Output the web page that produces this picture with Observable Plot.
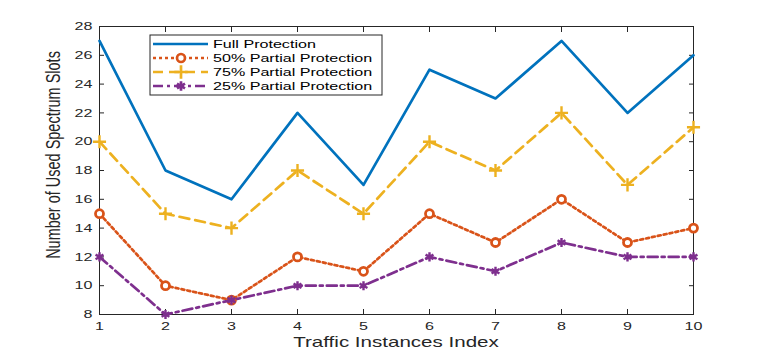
<!DOCTYPE html>
<html><head><meta charset="utf-8">
<script src="https://cdn.jsdelivr.net/npm/d3@7"></script>
<script src="https://cdn.jsdelivr.net/npm/@observablehq/plot@0.6"></script>
<style>
body{margin:0;background:#fff}
#c{position:relative;width:763px;height:354px;font-family:"Liberation Sans",Arial,sans-serif}
.wide{transform-box:fill-box;transform-origin:center;}
</style>
</head><body><div id="c"></div>
<script>
const instances = [1,2,3,4,5,6,7,8,9,10];
const fullProtection = [27,18,16,22,17,25,23,27,22,26];
const partial50 = [15,10,9,12,11,15,13,16,13,14];
const partial75 = [20,15,14,18,15,20,18,22,17,21];
const partial25 = [12,8,9,10,10,12,11,13,12,12];
const xTicks = [1,2,3,4,5,6,7,8,9,10];
const yTicks = [8,10,12,14,16,18,20,22,24,26,28];
const seriesNames = ["Full Protection","50% Partial Protection","75% Partial Protection","25% Partial Protection"];
const seriesColors = ["#0072BD","#D95319","#EDB120","#7E2F8E"];
const seriesDash = [null,"3,3","10,6","10,4,3,4"];
const seriesSymbol = [null,"circle","plus","asterisk"];
const seriesValues = [fullProtection, partial50, partial75, partial25];

const series = seriesNames.map((name,k)=>({
  name, color: seriesColors[k], dash: seriesDash[k], symbol: seriesSymbol[k],
  rows: instances.map((x,i)=>({x, y: seriesValues[k][i]}))
}));

const marks = [];
for (const s of series) {
  marks.push(Plot.line(s.rows, {x:"x", y:"y", stroke:s.color, strokeWidth:2.7, strokeDasharray:s.dash}));
  if (s.symbol) marks.push(Plot.dot(s.rows, {x:"x", y:"y", stroke:s.color, symbol:s.symbol,
    r: s.symbol==="circle"?4:4.3, strokeWidth: s.symbol==="circle"?2.8:2.4, fill: s.symbol==="circle"?"#fff":"none"}));
}

const chart = Plot.plot({
  width:763, height:354,
  marginLeft:99, marginRight:70, marginTop:26, marginBottom:40,
  style:{fontFamily:"Liberation Sans, Arial, sans-serif", fontSize:"11px", color:"#262626", background:"#fff"},
  x:{domain:[1,10]},
  y:{domain:[8,28]},
  marks:[
    Plot.axisX({anchor:"bottom", ticks:xTicks, tickSize:-5, tickPadding:12, tickFormat:d=>d, label:null}),
    Plot.axisX({anchor:"top", ticks:xTicks, tickSize:-5, tickFormat:()=>"", label:null}),
    Plot.axisY({anchor:"left", ticks:yTicks, tickSize:-5, tickPadding:12, tickFormat:d=>d, label:null}),
    Plot.axisY({anchor:"right", ticks:yTicks, tickSize:-5, tickFormat:()=>"", label:null}),
    Plot.frame({stroke:"#262626", strokeWidth:1}),
    ...marks
  ]
});
const c = document.getElementById("c");
c.appendChild(chart);
const svg = d3.select(chart);
svg.selectAll("[aria-label='x-axis tick label'] text, [aria-label='y-axis tick label'] text")
  .each(function(){
    const el = d3.select(this);
    const tr = el.attr("transform") || "";
    el.attr("transform", tr + " scale(1.4,1)");
    const x = +el.attr("x") || 0;
    if (x) el.attr("x", x/1.4);
  }).style("font-size","11.5px");

// x label
svg.append("text").attr("x",396).attr("y",347).attr("text-anchor","middle").attr("fill","#262626")
  .attr("class","wide").style("transform","scaleX(1.37)")
  .style("font-size","15px").text("Traffic Instances Index");
// y label
svg.append("text").attr("transform","translate(60,155) rotate(-90) scale(1,1.4)")
  .attr("text-anchor","middle").attr("fill","#262626")
  .style("font-size","14.5px").text("Number of Used Spectrum Slots");

// legend
const lg = svg.append("g").attr("transform","translate(150,35)");
lg.append("rect").attr("width",232).attr("height",60).attr("fill","#fff").attr("stroke","#262626");
series.forEach((s,k)=>{
  const y = 9 + k*14;
  lg.append("line").attr("x1",3).attr("x2",58).attr("y1",y).attr("y2",y)
    .attr("stroke",s.color).attr("stroke-width",2.7).attr("stroke-dasharray",s.dash);
  if (s.symbol) {
    const sym = {circle:d3.symbolCircle, plus:d3.symbolPlus, asterisk:d3.symbolAsterisk}[s.symbol];
    const size = s.symbol==="circle" ? 50 : 60;
    lg.append("path").attr("d", d3.symbol(sym, size)()).attr("transform",`translate(31,${y})`)
      .attr("fill", s.symbol==="circle"?"#fff":"none").attr("stroke",s.color).attr("stroke-width",2.7);
  }
  const t = lg.append("text").attr("x",63).attr("y",y).attr("dy","0.36em").attr("fill","#000")
    .attr("text-anchor","start").style("font-size","11.5px").text(s.name);
  t.style("transform-box","fill-box").style("transform-origin","left center").style("transform","scaleX(1.4)");
});
</script>
</body></html>
